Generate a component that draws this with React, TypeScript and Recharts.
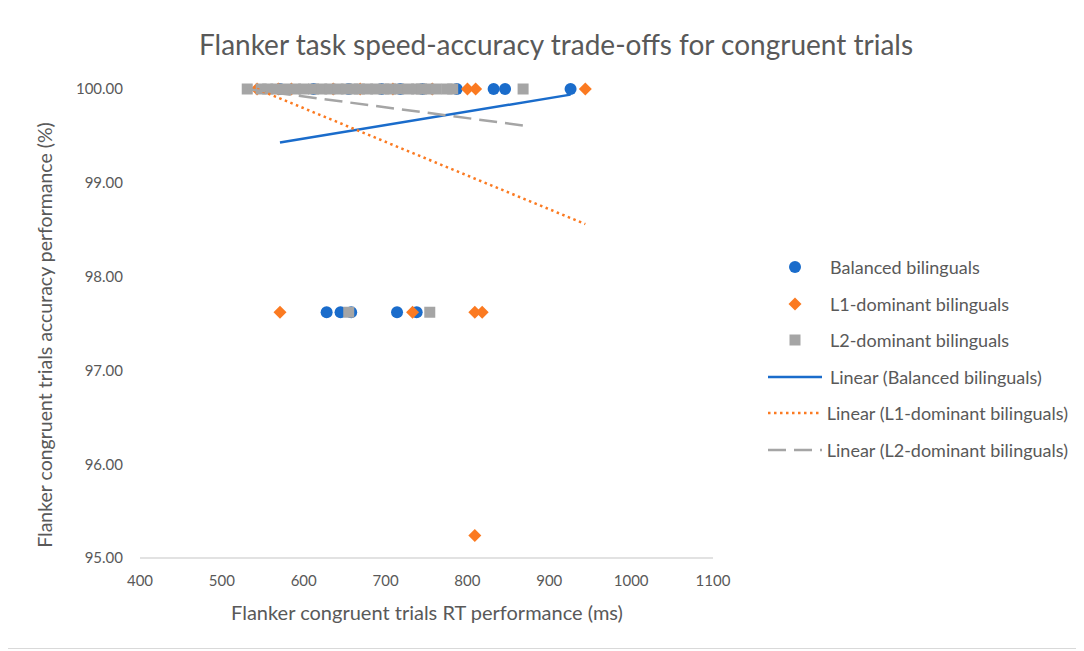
import { ScatterChart, Scatter, XAxis, YAxis, Legend, Label } from "recharts"

const FONT = "Lato, 'Open Sans', sans-serif"
const TEXT = "#595959"
const BLUE = "#1a6ccb"
const ORANGE = "#fb7a21"
const GREY = "#a5a5a5"

// Balanced bilinguals: RT (ms) / accuracy (%)
const balancedRt = [571, 612, 655, 695, 718, 745, 787, 832, 846, 926, 628, 645, 658, 714, 738]
const balancedAcc = [100, 100, 100, 100, 100, 100, 100, 100, 100, 100, 97.62, 97.62, 97.62, 97.62, 97.62]

// L1-dominant bilinguals
const l1Rt = [543, 569, 585, 636, 669, 709, 757, 800, 810, 944, 571, 733, 809, 818, 809]
const l1Acc = [100, 100, 100, 100, 100, 100, 100, 100, 100, 100, 97.62, 97.62, 97.62, 97.62, 95.24]

// L2-dominant bilinguals
const l2Rt = [
  531, 548, 556, 566, 578, 590, 600, 612, 622, 632, 642, 652, 660, 668, 678, 688, 698, 706, 716,
  728, 738, 744, 752, 762, 775, 782, 868, 655, 754,
]
const l2Acc = [
  100, 100, 100, 100, 100, 100, 100, 100, 100, 100, 100, 100, 100, 100, 100, 100, 100, 100, 100,
  100, 100, 100, 100, 100, 100, 100, 100, 97.62, 97.62,
]

// linear trendline end points
const balancedTrendRt = [571, 926]
const balancedTrendAcc = [99.43, 99.94]
const l1TrendRt = [543, 944]
const l1TrendAcc = [100, 98.56]
const l2TrendRt = [531, 869]
const l2TrendAcc = [100, 99.61]

const xTicks = [400, 500, 600, 700, 800, 900, 1000, 1100]
const yTicks = [95, 96, 97, 98, 99, 100]

const toPoints = (xs: number[], ys: number[]) => xs.map((x, i) => ({ x, y: ys[i] }))

function CircleMark(props: any) {
  const { cx, cy } = props
  return <circle cx={cx} cy={cy} r={6} fill={BLUE} />
}

function DiamondMark(props: any) {
  const { cx, cy } = props
  const r = 6.5
  return <path d={`M${cx},${cy - r}L${cx + r},${cy}L${cx},${cy + r}L${cx - r},${cy}Z`} fill={ORANGE} />
}

function SquareMark(props: any) {
  const { cx, cy } = props
  return <rect x={cx - 5.5} y={cy - 5.5} width={11} height={11} fill={GREY} />
}

const NoMark = () => <g />

const lineStyles: Record<string, { stroke: string; dash?: string }> = {
  "Linear (Balanced bilinguals)": { stroke: BLUE },
  "Linear (L1-dominant bilinguals)": { stroke: ORANGE, dash: "2.5 3.5" },
  "Linear (L2-dominant bilinguals)": { stroke: GREY, dash: "18 8" },
}

function legendMarker(name: string) {
  if (name === "Balanced bilinguals") return <circle cx={27} cy={10} r={6} fill={BLUE} />
  if (name === "L1-dominant bilinguals")
    return <path d="M27,3.5L33.5,10L27,16.5L20.5,10Z" fill={ORANGE} />
  if (name === "L2-dominant bilinguals") return <rect x={21.5} y={4.5} width={11} height={11} fill={GREY} />
  const s = lineStyles[name]
  return <line x1={0} x2={54} y1={10} y2={10} stroke={s.stroke} strokeWidth={2.5} strokeDasharray={s.dash} />
}

function renderLegend(props: any) {
  const { payload = [] } = props
  return (
    <div style={{ fontFamily: FONT, fontSize: 18, color: TEXT }}>
      {payload.map((entry: any) => (
        <div key={entry.value} style={{ display: "flex", alignItems: "center", height: 36.5 }}>
          <svg width={62} height={20}>{legendMarker(entry.value)}</svg>
          <span style={{ whiteSpace: "nowrap" }}>{entry.value}</span>
        </div>
      ))}
    </div>
  )
}

export default function App() {
  return (
    <div
      style={{
        position: "relative",
        width: 1068,
        height: 640,
        borderRight: "1px solid #d9d9d9",
        borderBottom: "1px solid #d9d9d9",
        background: "#fff",
      }}
    >
      <div
        style={{
          position: "absolute",
          left: 98,
          width: 900,
          top: 19,
          textAlign: "center",
          fontFamily: FONT,
          fontSize: 28,
          color: TEXT,
          zIndex: 1,
        }}
      >
        Flanker task speed-accuracy trade-offs for congruent trials
      </div>
      <ScatterChart width={1068} height={640} margin={{ top: 81, right: 63, bottom: 30, left: 0 }}>
        <XAxis
          type="number"
          dataKey="x"
          domain={[400, 1100]}
          ticks={xTicks}
          height={60}
          tick={{ fill: TEXT, fontSize: 15, fontFamily: FONT }}
          tickLine={false}
          tickMargin={11}
          axisLine={{ stroke: "#d9d9d9", strokeWidth: 1.3 }}
        >
          <Label
            content={() => (
              <text
                x={419}
                y={607}
                textAnchor="middle"
                dominantBaseline="middle"
                fill={TEXT}
                fontSize={20}
                fontFamily={FONT}
              >
                Flanker congruent trials RT performance (ms)
              </text>
            )}
          />
        </XAxis>
        <YAxis
          type="number"
          dataKey="y"
          domain={[95, 100]}
          ticks={yTicks}
          width={132}
          tickFormatter={(v: number) => v.toFixed(2)}
          tick={{ fill: TEXT, fontSize: 15, fontFamily: FONT }}
          tickLine={false}
          tickMargin={11}
          axisLine={false}
        >
          <Label
            content={() => (
              <text
                x={39}
                y={327}
                transform="rotate(-90, 39, 327)"
                textAnchor="middle"
                dominantBaseline="middle"
                fill={TEXT}
                fontSize={19.5}
                fontFamily={FONT}
              >
                Flanker congruent trials accuracy performance (%)
              </text>
            )}
          />
        </YAxis>
        <Legend
          layout="vertical"
          align="right"
          verticalAlign="top"
          content={renderLegend}
          wrapperStyle={{ top: 241, left: 760, right: "auto", width: 300 }}
        />
        <Scatter
          name="Balanced bilinguals"
          data={toPoints(balancedRt, balancedAcc)}
          fill={BLUE}
          shape={CircleMark}
          isAnimationActive={false}
        />
        <Scatter
          name="L1-dominant bilinguals"
          data={toPoints(l1Rt, l1Acc)}
          fill={ORANGE}
          shape={DiamondMark}
          isAnimationActive={false}
        />
        <Scatter
          name="L2-dominant bilinguals"
          data={toPoints(l2Rt, l2Acc)}
          fill={GREY}
          shape={SquareMark}
          isAnimationActive={false}
        />
        <Scatter
          name="Linear (Balanced bilinguals)"
          data={toPoints(balancedTrendRt, balancedTrendAcc)}
          fill={BLUE}
          shape={NoMark}
          line={{ stroke: BLUE, strokeWidth: 2.5 }}
          isAnimationActive={false}
        />
        <Scatter
          name="Linear (L1-dominant bilinguals)"
          data={toPoints(l1TrendRt, l1TrendAcc)}
          fill={ORANGE}
          shape={NoMark}
          line={{ stroke: ORANGE, strokeWidth: 2.5, strokeDasharray: "2.5 3.5" }}
          isAnimationActive={false}
        />
        <Scatter
          name="Linear (L2-dominant bilinguals)"
          data={toPoints(l2TrendRt, l2TrendAcc)}
          fill={GREY}
          shape={NoMark}
          line={{ stroke: GREY, strokeWidth: 2.5, strokeDasharray: "18 8" }}
          isAnimationActive={false}
        />
      </ScatterChart>
    </div>
  )
}
